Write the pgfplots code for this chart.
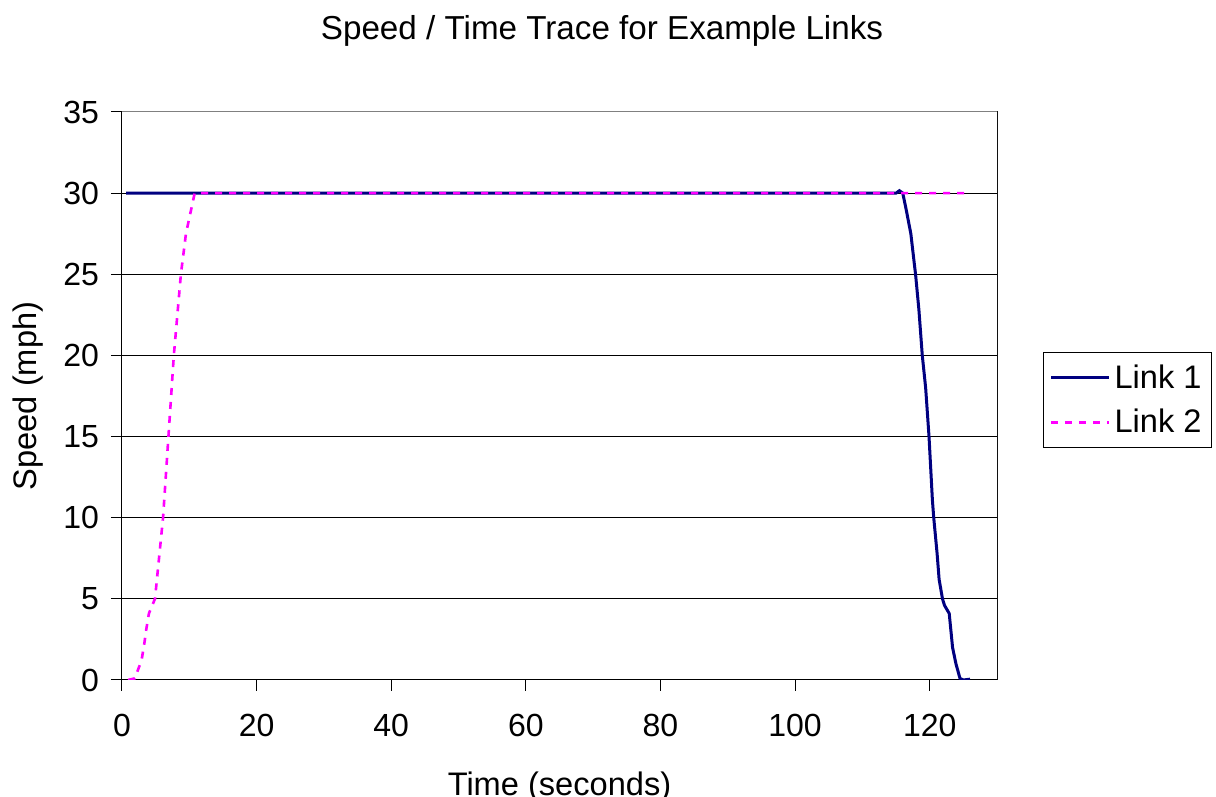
\documentclass[border=0pt]{standalone}
\usepackage{pgfplots}
\pgfplotsset{compat=1.18}
\usepackage{fontspec}
\setmainfont{Liberation Sans}
\definecolor{linkone}{RGB}{0,0,128}
\definecolor{linktwo}{RGB}{255,0,255}
\begin{document}
\begin{tikzpicture}
\begin{axis}[
  at={(61pt,58.5pt)}, anchor=south west,
  scale only axis, width=437.5pt, height=284pt,
  xmin=0, xmax=130, ymin=0, ymax=35,
  xtick={0,20,...,120}, ytick={0,5,...,35},
  xtick pos=left, ytick pos=left,
  tick align=outside, major tick length=5.5pt,
  tick style={black, line width=0.5pt},
  axis line style={black, line width=0.5pt},
  ymajorgrids, grid style={black, line width=0.5pt},
  /pgf/number format/assume math mode=true,
  ticklabel style={font=\fontsize{16}{19}\selectfont},
  xticklabel style={yshift=-8pt},
  yticklabel style={xshift=-2.5pt},
  xlabel={Time (seconds)},
  ylabel={Speed (mph)},
  label style={font=\fontsize{16.3}{19}\selectfont},
  xlabel style={at={(axis description cs:0.5,0)}, anchor=base, yshift=-58pt},
  ylabel style={at={(axis description cs:0,0.5)}, anchor=base, yshift=42.5pt},
  legend style={at={(1.0526,0.5775)}, anchor=north west, draw=black, line width=0.5pt,
    font=\fontsize{16.3}{19}\selectfont, inner xsep=3pt, inner ysep=4pt,
    row sep=5pt},
  legend cell align=left,
  legend image code/.code={\draw[#1] (0pt,0pt) -- (29pt,0pt);},
]
\addplot[linkone, line width=1.5pt] coordinates {
(0.6,30) (115,30) (115.5,30.15) (116,30) (116.5,29) (117.2,27.5) (117.7,25.7) (117.9,25)
(118.4,22.8) (118.9,20) (119.4,18) (119.9,15) (120.4,11.1) (120.6,10) (121.1,7.8)
(121.4,6.2) (121.9,5) (122.2,4.6) (122.9,4.1) (123.4,2.0) (123.9,1.0) (124.5,0.1)
(125,0) (126,0.05)
};
\addlegendentry{Link 1}
\addplot[linktwo, line width=1.3pt, dash pattern=on 3.5pt off 3.5pt] coordinates {
(0.9,0) (1.9,0.1) (2.9,1.2) (3.3,2.2) (3.6,3.1) (4.0,4.1) (4.9,5) (5.5,7.5) (6.1,10)
(6.9,15) (7.7,20) (8.75,25) (9.5,27.5) (10.8,30) (125.6,30)
};
\addlegendentry{Link 2}
\draw[gray, line width=0.5pt] (rel axis cs:0,1) -- (rel axis cs:1,1) -- (rel axis cs:1,0);
\end{axis}
\node[anchor=base, font=\fontsize{16.6}{19}\selectfont] at (301pt,378.5pt) {Speed / Time Trace for Example Links};
\pgfresetboundingbox
\useasboundingbox (0,0) rectangle (608pt,398.5pt);
\end{tikzpicture}
\end{document}
